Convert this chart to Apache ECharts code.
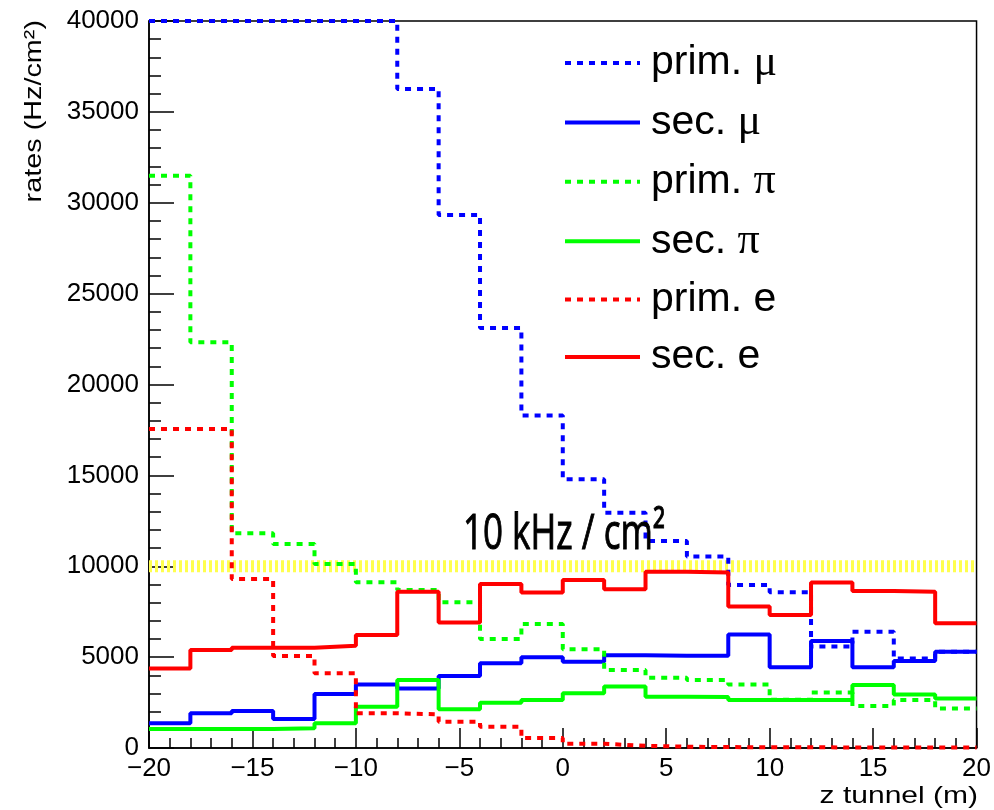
<!DOCTYPE html>
<html>
<head>
<meta charset="utf-8">
<script src="https://cdn.jsdelivr.net/npm/echarts@6/dist/echarts.min.js"></script>
<style>
  html, body { margin: 0; padding: 0; background: #fff; }
  #chart { width: 994px; height: 810px; }
</style>
</head>
<body>
<div id="chart"></div>
<script>
// bin edges along the tunnel (m), 20 bins of 2 m
const binEdges = [-20, -18, -16, -14, -12, -10, -8, -6, -4, -2, 0, 2, 4, 6, 8, 10, 12, 14, 16, 18, 20]
// rates per bin (Hz/cm2)
const primMu = [40000, 40000, 40000, 40000, 40000, 40000, 36260, 29330, 23110, 18300, 14780, 12950, 11390, 10530, 8970, 8570, 5580, 6400, 4930, 5300]
const secMu = [1360, 1910, 2040, 1600, 2970, 3500, 3280, 3960, 4660, 4990, 4750, 5100, 5080, 5080, 6250, 4440, 5890, 4440, 4790, 5300]
const primPi = [31490, 22320, 11810, 11220, 10120, 9120, 8690, 8020, 6000, 6820, 5430, 4290, 3870, 3740, 3500, 2650, 3050, 2310, 2640, 2180]
const secPi = [1050, 1050, 1050, 1080, 1360, 2270, 3740, 2130, 2490, 2640, 3010, 3380, 2820, 2800, 2640, 2640, 2640, 3470, 2950, 2730]
const primE = [17550, 17550, 9300, 5060, 4110, 1910, 1850, 1450, 1170, 550, 230, 120, 70, 50, 40, 40, 30, 30, 30, 30]
const secE = [4370, 5390, 5520, 5520, 5630, 6220, 8600, 6910, 9020, 8550, 9240, 8730, 9700, 9660, 7780, 7320, 9100, 8640, 8600, 6860]
const limitValue = 10000

const chart = echarts.init(document.getElementById('chart'))

// histogram -> step points at the bin edges
function histData(vals) {
  return binEdges.map((x, i) => [x, vals[Math.min(i, vals.length - 1)]])
}

function histSeries(name, vals, color, dotted) {
  return {
    name: name,
    type: 'line',
    step: 'end',
    data: histData(vals),
    symbol: 'none',
    clip: false,
    z: 3,
    lineStyle: { color: color, width: 4, type: dotted ? [6, 6] : 'solid' },
    itemStyle: { color: color }
  }
}

const legendNames = ['prim. μ', 'sec. μ', 'prim. π', 'sec. π', 'prim. e', 'sec. e']

const option = {
  animation: false,
  backgroundColor: '#fff',
  grid: {
    left: 149, right: 16, top: 21, bottom: 62,
    show: true, borderColor: '#000', borderWidth: 1.5
  },
  legend: {
    data: legendNames,
    orient: 'vertical',
    left: 558,
    top: 36,
    itemWidth: 75,
    itemHeight: 14,
    itemGap: 15.4,
    itemStyle: { opacity: 0 },
    lineStyle: { width: 4 },
    textStyle: {
      fontFamily: 'Liberation Sans',
      fontSize: 41,
      lineHeight: 42,
      color: '#000',
      padding: [0, 0, 0, 6],
      rich: {
        g: { fontFamily: 'Liberation Serif', fontSize: 44, lineHeight: 42, color: '#000' }
      }
    },
    formatter: (name) => {
      const parts = name.split(' ')
      const sym = parts[1]
      if (sym === 'μ' || sym === 'π') return parts[0] + ' {g|' + sym + '}'
      return name
    }
  },
  xAxis: {
    type: 'value',
    min: -20,
    max: 20,
    interval: 5,
    axisLine: { onZero: false, lineStyle: { color: '#000', width: 1.5 } },
    axisTick: { inside: true, length: 20, lineStyle: { color: '#000', width: 1.5 } },
    minorTick: { show: true, splitNumber: 5, length: 10, lineStyle: { color: '#000', width: 1.5 } },
    splitLine: { show: false },
    axisLabel: {
      margin: 8,
      fontFamily: 'Liberation Sans',
      fontSize: 26,
      color: '#000',
      formatter: (v) => String(v).replace('-', '\u2212')
    }
  },
  yAxis: {
    type: 'value',
    min: 0,
    max: 40000,
    interval: 5000,
    axisLine: { show: true, onZero: false, lineStyle: { color: '#000', width: 1.5 } },
    axisTick: { show: true, inside: true, length: 25, lineStyle: { color: '#000', width: 1.5 } },
    minorTick: { show: true, splitNumber: 5, length: 12, lineStyle: { color: '#000', width: 1.5 } },
    splitLine: { show: false },
    axisLabel: {
      margin: 10,
      fontFamily: 'Liberation Sans',
      fontSize: 26,
      color: '#000',
      formatter: (v) => String(v)
    }
  },
  graphic: [
    {
      type: 'text',
      x: 463,
      y: 510,
      scaleX: 0.7,
      z: 10,
      style: {
        text: '10 kHz / cm²',
        fontFamily: 'Open Sans',
        fontSize: 50,
        fill: '#000',
        stroke: '#000',
        lineWidth: 1
      }
    },
    {
      type: 'text',
      x: 22,
      y: 20,
      rotation: Math.PI / 2,
      scaleX: 1.2,
      style: {
        text: 'rates (Hz/cm²)',
        fontFamily: 'Liberation Sans',
        fontSize: 24,
        fill: '#000',
        align: 'right',
        verticalAlign: 'top'
      }
    },
    {
      type: 'text',
      x: 978,
      y: 784,
      scaleX: 1.25,
      style: {
        text: 'z tunnel (m)',
        fontFamily: 'Liberation Sans',
        fontSize: 24,
        fill: '#000',
        align: 'right',
        verticalAlign: 'top'
      }
    }
  ],
  series: [
    {
      name: 'limit',
      type: 'line',
      data: [[binEdges[0], limitValue], [binEdges[binEdges.length - 1], limitValue]],
      symbol: 'none',
      z: 1,
      silent: true,
      lineStyle: { color: '#ffff4d', width: 12, type: [3, 3] }
    },
    histSeries('prim. μ', primMu, '#0000ff', true),
    histSeries('sec. μ', secMu, '#0000ff', false),
    histSeries('prim. π', primPi, '#00ff00', true),
    histSeries('sec. π', secPi, '#00ff00', false),
    histSeries('prim. e', primE, '#ff0000', true),
    histSeries('sec. e', secE, '#ff0000', false)
  ]
}

chart.setOption(option)
</script>
</body>
</html>
